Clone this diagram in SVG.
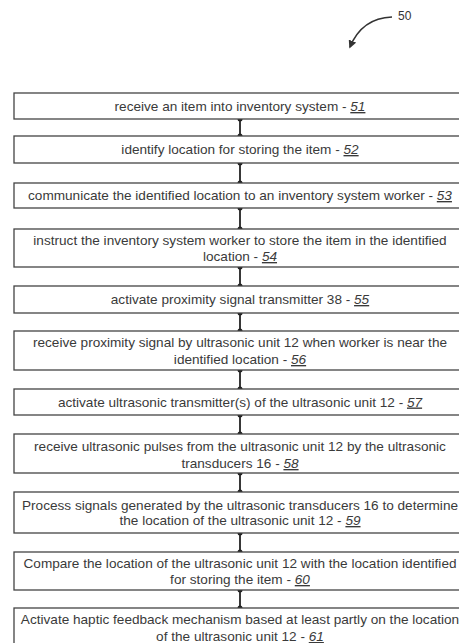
<svg xmlns="http://www.w3.org/2000/svg" width="459" height="643" viewBox="0 0 459 643">
<style>
.box{fill:#fff;stroke:#444;stroke-width:1.3}
.t{font-family:"Liberation Sans",Arial,sans-serif;font-size:13.6px;fill:#3a3a3a;text-anchor:middle}
.n{font-style:italic;text-decoration:underline}
.c{stroke:#222;stroke-width:1.8}
.d{fill:#222}
</style>
<defs>
<marker id="ah" viewBox="0 0 10 10" refX="8" refY="5" markerWidth="8" markerHeight="8" orient="auto-start-reverse" markerUnits="userSpaceOnUse"><path d="M0,0 L10,5 L0,10 z" fill="#333"/></marker>
</defs>
<g id="label50">
<path d="M392,17 Q362,18 350,47" fill="none" stroke="#333" stroke-width="1.6" marker-end="url(#ah)"/>
<text x="398" y="20" style="font-family:'Liberation Sans',Arial,sans-serif;font-size:12px;fill:#333">50</text>
</g>
<g id="connectors">
<line class="c" x1="240" y1="119" x2="240" y2="136"/><circle class="d" cx="240" cy="119" r="2.5"/><circle class="d" cx="240" cy="136" r="2.5"/>
<line class="c" x1="240" y1="163" x2="240" y2="183"/><circle class="d" cx="240" cy="163" r="2.5"/><circle class="d" cx="240" cy="183" r="2.5"/>
<line class="c" x1="240" y1="208" x2="240" y2="229"/><circle class="d" cx="240" cy="208" r="2.5"/><circle class="d" cx="240" cy="229" r="2.5"/>
<line class="c" x1="240" y1="267" x2="240" y2="286"/><circle class="d" cx="240" cy="267" r="2.5"/><circle class="d" cx="240" cy="286" r="2.5"/>
<line class="c" x1="240" y1="313" x2="240" y2="331"/><circle class="d" cx="240" cy="313" r="2.5"/><circle class="d" cx="240" cy="331" r="2.5"/>
<line class="c" x1="240" y1="370" x2="240" y2="389"/><circle class="d" cx="240" cy="370" r="2.5"/><circle class="d" cx="240" cy="389" r="2.5"/>
<line class="c" x1="240" y1="415" x2="240" y2="434"/><circle class="d" cx="240" cy="415" r="2.5"/><circle class="d" cx="240" cy="434" r="2.5"/>
<line class="c" x1="240" y1="473" x2="240" y2="492"/><circle class="d" cx="240" cy="473" r="2.5"/><circle class="d" cx="240" cy="492" r="2.5"/>
<line class="c" x1="240" y1="533" x2="240" y2="552"/><circle class="d" cx="240" cy="533" r="2.5"/><circle class="d" cx="240" cy="552" r="2.5"/>
<line class="c" x1="240" y1="590" x2="240" y2="608"/><circle class="d" cx="240" cy="590" r="2.5"/><circle class="d" cx="240" cy="608" r="2.5"/>
</g>
<g id="n51"><rect class="box" x="14" y="93" width="452" height="26"/><text class="t" x="240" y="111">receive an item into inventory system - <tspan class="n">51</tspan></text></g>
<g id="n52"><rect class="box" x="14" y="136" width="452" height="27"/><text class="t" x="240" y="154">identify location for storing the item - <tspan class="n">52</tspan></text></g>
<g id="n53"><rect class="box" x="14" y="183" width="452" height="25"/><text class="t" x="240" y="200">communicate the identified location to an inventory system worker - <tspan class="n">53</tspan></text></g>
<g id="n54"><rect class="box" x="14" y="229" width="452" height="38"/><text class="t" x="240" y="245">instruct the inventory system worker to store the item in the identified</text><text class="t" x="240" y="261">location - <tspan class="n">54</tspan></text></g>
<g id="n55"><rect class="box" x="14" y="286" width="452" height="27"/><text class="t" x="240" y="304">activate proximity signal transmitter 38 - <tspan class="n">55</tspan></text></g>
<g id="n56"><rect class="box" x="14" y="331" width="452" height="39"/><text class="t" x="240" y="347">receive proximity signal by ultrasonic unit 12 when worker is near the</text><text class="t" x="240" y="364">identified location - <tspan class="n">56</tspan></text></g>
<g id="n57"><rect class="box" x="14" y="389" width="452" height="26"/><text class="t" x="240" y="406.5">activate ultrasonic transmitter(s) of the ultrasonic unit 12 - <tspan class="n">57</tspan></text></g>
<g id="n58"><rect class="box" x="14" y="434" width="452" height="39"/><text class="t" x="240" y="451">receive ultrasonic pulses from the ultrasonic unit 12 by the ultrasonic</text><text class="t" x="240" y="468">transducers 16 - <tspan class="n">58</tspan></text></g>
<g id="n59"><rect class="box" x="14" y="492" width="452" height="41"/><text class="t" x="240" y="509.5">Process signals generated by the ultrasonic transducers 16 to determine</text><text class="t" x="240" y="525">the location of the ultrasonic unit 12 - <tspan class="n">59</tspan></text></g>
<g id="n60"><rect class="box" x="14" y="552" width="452" height="38"/><text class="t" x="240" y="567.5">Compare the location of the ultrasonic unit 12 with the location identified</text><text class="t" x="240" y="584">for storing the item - <tspan class="n">60</tspan></text></g>
<g id="n61"><rect class="box" x="14" y="608" width="452" height="44"/><text class="t" x="240" y="624">Activate haptic feedback mechanism based at least partly on the location</text><text class="t" x="240" y="641">of the ultrasonic unit 12 - <tspan class="n">61</tspan></text></g>
</svg>
